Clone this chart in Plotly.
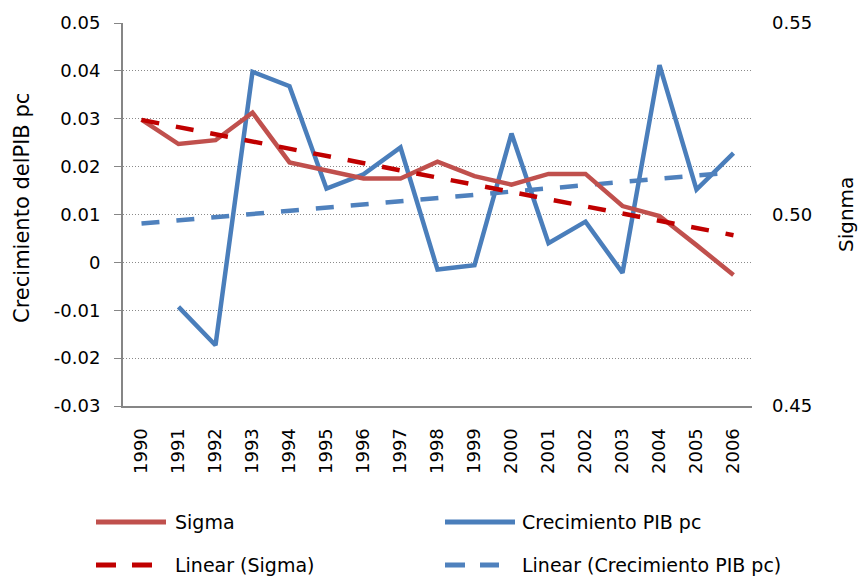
import plotly.graph_objects as go

# ---- data ----
years = ["1990", "1991", "1992", "1993", "1994", "1995", "1996", "1997", "1998",
         "1999", "2000", "2001", "2002", "2003", "2004", "2005", "2006"]
sigma = [0.5248, 0.5184, 0.5194, 0.5266, 0.5136, 0.5116, 0.5094, 0.5094, 0.5138,
         0.5100, 0.5078, 0.5106, 0.5106, 0.5022, 0.4996, 0.4920, 0.4842]
crecimiento = [None, -0.0093, -0.0173, 0.0398, 0.0368, 0.0154, 0.0184, 0.0240, -0.0015,
               -0.0006, 0.0269, 0.0040, 0.0085, -0.0022, 0.0412, 0.0152, 0.0228]
trend_years = ["1990", "2006"]
trend_sigma = [0.5247, 0.4946]
trend_crec = [0.0081, 0.0188]

left_ticks = [0.05, 0.04, 0.03, 0.02, 0.01, 0.0, -0.01, -0.02, -0.03]
left_ticktext = ["0.05", "0.04", "0.03", "0.02", "0.01", "0", "-0.01", "-0.02", "-0.03"]
right_ticks = [0.45, 0.50, 0.55]
right_ticktext = ["0.45", "0.50", "0.55"]

legend_names = ["Sigma", "Crecimiento PIB pc", "Linear (Sigma)", "Linear (Crecimiento PIB pc)"]

RED = "#C0504D"
BLUE = "#4A7EBB"
RED_T = "#C00000"
BLUE_T = "#4F81BD"
FONT = "DejaVu Sans, Arial, sans-serif"
GREY = "#868686"

fig = go.Figure()
fig.add_trace(go.Scatter(x=years, y=sigma, name=legend_names[0], mode="lines",
                         line=dict(color=RED, width=4.5), yaxis="y2", showlegend=False))
fig.add_trace(go.Scatter(x=years, y=crecimiento, name=legend_names[1], mode="lines",
                         line=dict(color=BLUE, width=4.5), yaxis="y", showlegend=False,
                         connectgaps=False))
fig.add_trace(go.Scatter(x=trend_years, y=trend_sigma, name=legend_names[2], mode="lines",
                         line=dict(color=RED_T, width=4.5, dash="18px,17px"), yaxis="y2",
                         showlegend=False))
fig.add_trace(go.Scatter(x=trend_years, y=trend_crec, name=legend_names[3], mode="lines",
                         line=dict(color=BLUE_T, width=4.5, dash="18px,17px"), yaxis="y",
                         showlegend=False))

W, H = 859, 577
L, R, T, B = 123, 107, 23, 171
pw, ph = W - L - R, H - T - B


def px_x(x):
    return (x - L) / pw


def px_y(y):
    return (H - B - y) / ph


shapes = []
annotations = []
# manual legend (line sample + text)
legend_items = [
    (legend_names[0], RED, None, 96, 166, 173, 522),
    (legend_names[1], BLUE, None, 445, 515, 520, 522),
    (legend_names[2], RED_T, "20px,16px", 96, 152, 173, 565),
    (legend_names[3], BLUE_T, "20px,15px", 445, 499, 520, 565),
]
for name, col, dash, x0, x1, tx, yy in legend_items:
    line = dict(color=col, width=5)
    if dash:
        line["dash"] = dash
    shapes.append(dict(type="line", xref="paper", yref="paper",
                       x0=px_x(x0), x1=px_x(x1), y0=px_y(yy), y1=px_y(yy), line=line))
    annotations.append(dict(xref="paper", yref="paper", x=px_x(tx), y=px_y(yy),
                            xanchor="left", yanchor="middle", showarrow=False, text=name,
                            font=dict(family=FONT, size=19, color="#000000")))

# axis titles
annotations.append(dict(xref="paper", yref="paper", x=px_x(22), y=px_y(208),
                        xanchor="center", yanchor="middle", showarrow=False,
                        text="Crecimiento delPIB pc", textangle=-90,
                        font=dict(family=FONT, size=21, color="#000000")))
annotations.append(dict(xref="paper", yref="paper", x=px_x(846), y=px_y(215),
                        xanchor="center", yanchor="middle", showarrow=False,
                        text="Signma", textangle=-90,
                        font=dict(family=FONT, size=20, color="#000000")))

fig.update_layout(
    width=W, height=H,
    margin=dict(l=L, r=R, t=T, b=B, pad=0),
    paper_bgcolor="white", plot_bgcolor="white",
    font=dict(family=FONT, size=18, color="#000000"),
    showlegend=False,
    xaxis=dict(type="category", categoryorder="array", categoryarray=years,
               range=[-0.5, 16.5], showgrid=False, zeroline=False,
               showline=True, linecolor=GREY, linewidth=2,
               ticks="", tickangle=-90, ticklabelstandoff=13,
               tickfont=dict(family=FONT, size=18, color="#000000")),
    yaxis=dict(range=[-0.03, 0.05], tickvals=left_ticks, ticktext=left_ticktext,
               showgrid=True, gridcolor="#8a8a8a", gridwidth=1, griddash="1px,2px",
               zeroline=False, showline=True, linecolor=GREY, linewidth=2,
               ticks="outside", ticklen=7, tickcolor=GREY, tickwidth=1,
               ticklabelstandoff=10,
               tickfont=dict(family=FONT, size=18, color="#000000")),
    yaxis2=dict(range=[0.45, 0.55], tickvals=right_ticks, ticktext=right_ticktext,
                overlaying="y", side="right", showgrid=False, zeroline=False,
                showline=False, ticks="", ticklabelstandoff=19,
                tickfont=dict(family=FONT, size=18, color="#000000")),
    shapes=shapes,
    annotations=annotations,
)

fig.write_html("out.html", config={"displayModeBar": False},
               post_script="document.body.style.margin='0';document.body.style.overflow='hidden';")
